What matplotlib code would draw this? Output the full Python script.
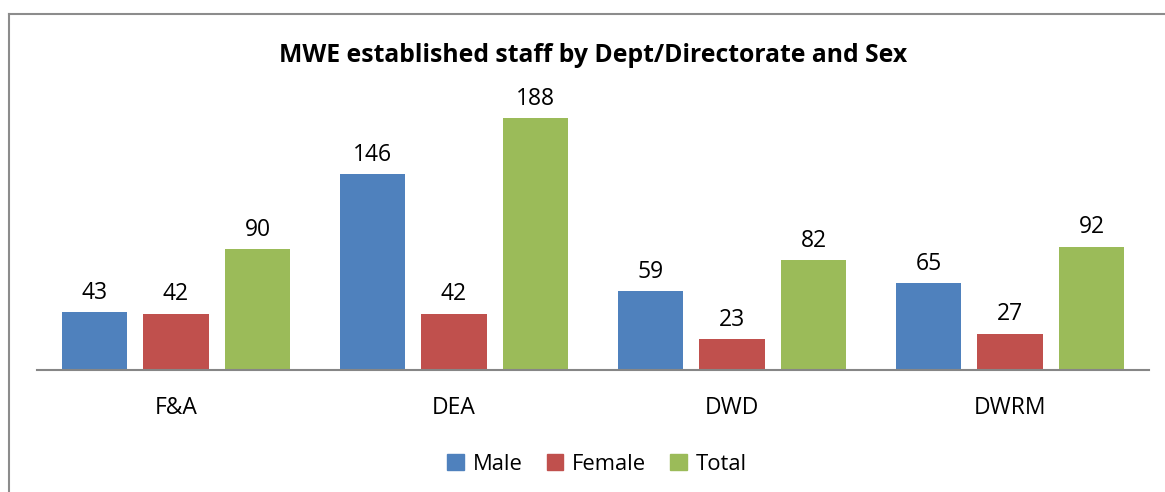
import numpy as np
import matplotlib.pyplot as plt
from matplotlib.lines import Line2D
from matplotlib.patches import Patch

depts = ["F&A", "DEA", "DWD", "DWRM"]
male = [43, 146, 59, 65]
female = [42, 42, 23, 27]
total = [90, 188, 82, 92]

series = [("Male", male, "#4F81BD"), ("Female", female, "#C0504D"), ("Total", total, "#9BBB59")]

plt.rcParams['font.family'] = ['Open Sans', 'DejaVu Sans']

W, H = 1165, 492
fig = plt.figure(figsize=(W / 100, H / 100), dpi=100)
ax = fig.add_axes([37 / W, 1 - 370 / H, (1149 - 37) / W, (370 - 102) / H])

x = np.arange(len(depts))
width = 0.234
step = 0.293
for i, (name, vals, col) in enumerate(series):
    pos = x + (i - 1) * step
    bars = ax.bar(pos, vals, width, color=col, label=name)
    for b, v in zip(bars, vals):
        ax.text(b.get_x() + b.get_width() / 2, v + 5.5, str(v), ha='center', va='bottom',
                fontsize=16.5)

ax.set_xlim(-0.5, len(depts) - 0.5)
ax.set_ylim(0, 200)
ax.set_yticks([])
ax.set_xticks(x)
ax.set_xticklabels(depts, fontsize=16.5)
ax.tick_params(axis='x', length=0, pad=19)
for s in ['top', 'right', 'left']:
    ax.spines[s].set_visible(False)
ax.spines['bottom'].set_color('#868686')
ax.spines['bottom'].set_linewidth(1.5)

fig.text(593 / W, 1 - 55 / H, "MWE established staff by Dept/Directorate and Sex",
         ha='center', va='center', fontsize=17.8, fontweight='bold')

handles = [Patch(color=c, label=n) for n, _, c in series]
fig.legend(handles=handles, loc='center', bbox_to_anchor=(597 / W, 1 - 464 / H), ncol=3,
           frameon=False, handlelength=0.75, handleheight=0.75, handletextpad=0.4,
           columnspacing=1.1, prop={'size': 15.8})

# chart border (partly cropped)
fig.add_artist(Line2D([9 / W, 9 / W], [0, 1 - 14 / H], color='#8c8c8c', lw=1.5))
fig.add_artist(Line2D([9 / W, 1], [1 - 14 / H, 1 - 14 / H], color='#8c8c8c', lw=1.5))

fig.savefig("out.png", dpi=100, facecolor='white')
